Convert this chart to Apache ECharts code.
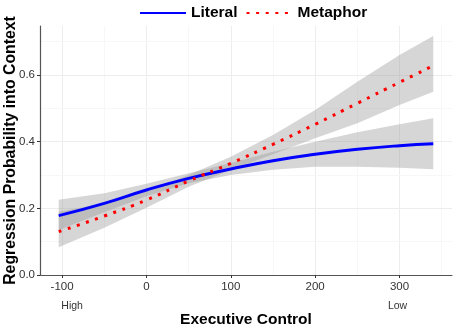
<!DOCTYPE html>
<html>
<head>
<meta charset="utf-8">
<script src="https://cdn.jsdelivr.net/npm/echarts@6/dist/echarts.min.js"></script>
<style>
html,body{margin:0;padding:0;background:#fff;}
#chart{width:454px;height:327px;}
</style>
</head>
<body>
<div id="chart"></div>
<script>
// Data
const execControl = [-104, -50, 0, 50, 100, 150, 200, 250, 300, 340];
const literalFit   = [0.178, 0.215, 0.255, 0.290, 0.318, 0.343, 0.362, 0.377, 0.388, 0.394];
const literalLow   = [0.135, 0.188, 0.236, 0.275, 0.300, 0.316, 0.325, 0.325, 0.322, 0.317];
const literalHigh  = [0.226, 0.245, 0.274, 0.305, 0.336, 0.370, 0.400, 0.428, 0.452, 0.470];
const metaphorFit  = [0.130, 0.177, 0.225, 0.282, 0.335, 0.392, 0.452, 0.515, 0.578, 0.628];
const metaphorLow  = [0.083, 0.142, 0.202, 0.265, 0.315, 0.362, 0.410, 0.455, 0.510, 0.550];
const metaphorHigh = [0.190, 0.215, 0.250, 0.300, 0.355, 0.420, 0.495, 0.580, 0.660, 0.717];
const xTicks = [-100, 0, 100, 200, 300];
const xMinorTicks = [-50, 50, 150, 250, 350];
const yTicks = [0, 0.2, 0.4, 0.6];
const yMinorTicks = [0.1, 0.3, 0.5, 0.7];
const seriesNames = ['Literal', 'Metaphor'];
const endLabels = ['High', 'Low'];
const endLabelAt = [-100, 300];

const FONT = '"Liberation Sans", Arial, sans-serif';
const chart = echarts.init(document.getElementById('chart'), null, {renderer: 'canvas'});

function band(lo, hi) {
  return function (params, api) {
    if (params.dataIndex !== 0) return null;
    const pts = [];
    for (let i = 0; i < execControl.length; i++) pts.push(api.coord([execControl[i], hi[i]]));
    for (let i = execControl.length - 1; i >= 0; i--) pts.push(api.coord([execControl[i], lo[i]]));
    return {
      type: 'polygon',
      shape: {points: pts},
      style: {fill: 'rgba(153,153,153,0.4)'}
    };
  };
}

const gridLines = [];
xTicks.forEach(v => gridLines.push({xAxis: v, lineStyle: {color: '#ededed', width: 1, type: 'solid'}}));
xMinorTicks.forEach(v => gridLines.push({xAxis: v, lineStyle: {color: '#f7f7f7', width: 1, type: 'solid'}}));
yTicks.forEach(v => gridLines.push({yAxis: v, lineStyle: {color: '#ededed', width: 1, type: 'solid'}}));
yMinorTicks.forEach(v => gridLines.push({yAxis: v, lineStyle: {color: '#f7f7f7', width: 1, type: 'solid'}}));

const option = {
  animation: false,
  backgroundColor: '#ffffff',
  textStyle: {fontFamily: FONT},
  grid: {left: 40, right: 2, top: 26, bottom: 52, containLabel: false, outerBoundsMode: 'none'},
  legend: {
    left: 134, top: 0,
    data: seriesNames,
    itemWidth: 46, itemHeight: 14, itemGap: 8,
    itemStyle: {opacity: 0},
    textStyle: {fontFamily: FONT, fontSize: 15.5, fontWeight: 'bold', color: '#000'}
  },
  xAxis: {
    type: 'value', min: -126.2, max: 362.2,
    name: 'Executive Control', nameLocation: 'middle', nameGap: 37,
    nameTextStyle: {fontFamily: FONT, fontSize: 15.5, fontWeight: 'bold', color: '#000'},
    axisLine: {show: true, onZero: false, lineStyle: {color: '#555', width: 1.2}},
    axisTick: {show: true, length: 3, customValues: xTicks, lineStyle: {color: '#333'}},
    axisLabel: {customValues: xTicks, fontSize: 11.5, color: '#333', margin: 6, fontFamily: FONT},
    splitLine: {show: false}
  },
  yAxis: {
    type: 'value', min: 0, max: 0.747,
    name: 'Regression Probability into Context', nameLocation: 'middle', nameGap: 21,
    nameMoveOverlap: false,
    nameTextStyle: {fontFamily: FONT, fontSize: 15.8, fontWeight: 'bold', color: '#000'},
    axisLine: {show: true, onZero: false, lineStyle: {color: '#555', width: 1.2}},
    axisTick: {show: true, length: 3, customValues: yTicks, lineStyle: {color: '#333'}},
    axisLabel: {customValues: yTicks, formatter: v => v.toFixed(1), fontSize: 11.5, color: '#333', margin: 5, fontFamily: FONT},
    splitLine: {show: false}
  },
  series: [
    {
      type: 'line', name: '_grid', data: [], silent: true, z: 0,
      markLine: {silent: true, z: 0, zlevel: 0, symbol: 'none', label: {show: false}, animation: false, data: gridLines}
    },
    {
      type: 'custom', name: '_bandL', z: 1, silent: true,
      data: execControl.map((x, i) => [x, literalLow[i], literalHigh[i]]),
      encode: {x: 0, y: [1, 2]},
      renderItem: band(literalLow, literalHigh)
    },
    {
      type: 'custom', name: '_bandM', z: 1, silent: true,
      data: execControl.map((x, i) => [x, metaphorLow[i], metaphorHigh[i]]),
      encode: {x: 0, y: [1, 2]},
      renderItem: band(metaphorLow, metaphorHigh)
    },
    {
      type: 'line', name: seriesNames[0], z: 3, smooth: true, symbol: 'none',
      data: execControl.map((x, i) => [x, literalFit[i]]),
      lineStyle: {color: '#0000ff', width: 3, type: 'solid'},
      itemStyle: {color: '#0000ff'}
    },
    {
      type: 'line', name: seriesNames[1], z: 4, smooth: true, symbol: 'none',
      data: execControl.map((x, i) => [x, metaphorFit[i]]),
      lineStyle: {color: '#ff0000', width: 3, type: [3, 6.6]},
      itemStyle: {color: '#ff0000'}
    }
  ]
};
chart.setOption(option);

// "High" / "Low" annotations under the x tick labels, positioned via the axis scale
const gfx = endLabels.map((t, i) => {
  const p = chart.convertToPixel({gridIndex: 0}, [endLabelAt[i], 0]);
  return {
    type: 'text',
    x: p[0] + (i === 0 ? 10 : -2), y: p[1] + 26,
    style: {text: t, fontFamily: FONT, fontSize: 10.5, fill: '#333', align: 'center', verticalAlign: 'top'}
  };
});
chart.setOption({graphic: gfx});
</script>
</body>
</html>
